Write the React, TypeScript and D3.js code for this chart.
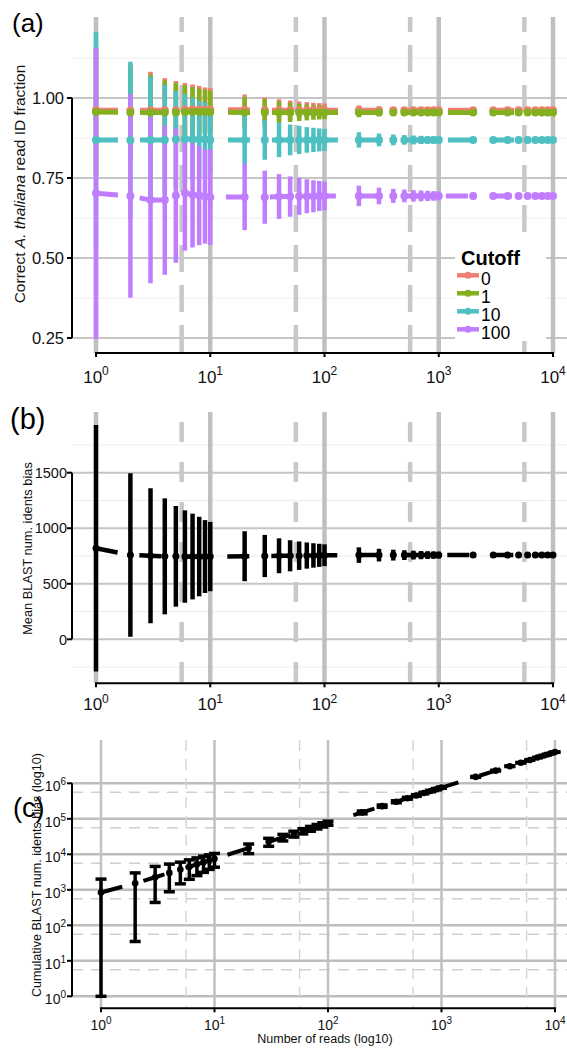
import React from "react";
import * as d3 from "d3";

const FONT = "'Liberation Sans', Arial, Helvetica, sans-serif";

// number of reads sampled (x axis, shared by all panels)
const reads = [
  1, 2, 3, 4, 5, 6, 7, 8, 9, 10,
  20, 30, 40, 50, 60, 70, 80, 90, 100,
  200, 300, 400, 500, 600, 700, 800, 900, 1000,
  2000, 3000, 4000, 5000, 6000, 7000, 8000, 9000, 10000,
];

const cutoffLevels = ["0", "1", "10", "100"];
const cutoffColors = ["#F07E73", "#84AF1E", "#4EC0C2", "#C07DFD"];

// (a) correct A. thaliana read ID fraction, mean and error half-width per cutoff
const fracMeanCut0 = [0.962, 0.961, 0.962, 0.962, 0.961, 0.963, 0.964, 0.964, 0.963, 0.963, 0.963, 0.962, 0.962, 0.962, 0.962, 0.962, 0.962, 0.962, 0.962, 0.962, 0.962, 0.962, 0.962, 0.962, 0.962, 0.962, 0.962, 0.962, 0.962, 0.962, 0.962, 0.962, 0.962, 0.962, 0.962, 0.962, 0.962];
const fracErrCut0 = [0.2, 0.145, 0.12, 0.1, 0.092, 0.084, 0.078, 0.074, 0.07, 0.068, 0.048, 0.04, 0.034, 0.03, 0.027, 0.025, 0.023, 0.022, 0.021, 0.015, 0.012, 0.01, 0.0093, 0.0085, 0.0079, 0.0074, 0.007, 0.0066, 0.0047, 0.0038, 0.0033, 0.003, 0.0027, 0.0025, 0.0023, 0.0022, 0.0021];
const fracMeanCut1 = [0.956, 0.955, 0.955, 0.955, 0.955, 0.956, 0.957, 0.957, 0.957, 0.956, 0.955, 0.955, 0.955, 0.955, 0.955, 0.955, 0.955, 0.955, 0.955, 0.955, 0.955, 0.955, 0.955, 0.955, 0.955, 0.955, 0.955, 0.955, 0.955, 0.955, 0.955, 0.955, 0.955, 0.955, 0.955, 0.955, 0.955];
const fracErrCut1 = [0.2, 0.142, 0.118, 0.1, 0.092, 0.083, 0.077, 0.073, 0.069, 0.067, 0.048, 0.042, 0.034, 0.03, 0.027, 0.025, 0.023, 0.022, 0.021, 0.015, 0.012, 0.01, 0.0093, 0.0085, 0.0079, 0.0074, 0.007, 0.0066, 0.0047, 0.0038, 0.0033, 0.003, 0.0027, 0.0025, 0.0023, 0.0022, 0.0021];
const fracMeanCut10 = [0.869, 0.868, 0.869, 0.869, 0.871, 0.872, 0.871, 0.87, 0.87, 0.869, 0.869, 0.869, 0.869, 0.869, 0.869, 0.869, 0.869, 0.869, 0.869, 0.869, 0.869, 0.869, 0.869, 0.869, 0.869, 0.869, 0.869, 0.869, 0.869, 0.869, 0.869, 0.869, 0.869, 0.869, 0.869, 0.869, 0.869];
const fracErrCut10 = [0.338, 0.245, 0.198, 0.171, 0.151, 0.14, 0.13, 0.122, 0.116, 0.104, 0.076, 0.062, 0.054, 0.048, 0.044, 0.04, 0.038, 0.036, 0.034, 0.024, 0.02, 0.017, 0.015, 0.014, 0.0128, 0.012, 0.0113, 0.0107, 0.0076, 0.0062, 0.0053, 0.0048, 0.0044, 0.004, 0.0038, 0.0036, 0.0034];
const fracMeanCut100 = [0.702, 0.694, 0.681, 0.681, 0.695, 0.703, 0.698, 0.695, 0.692, 0.69, 0.691, 0.69, 0.692, 0.692, 0.693, 0.693, 0.693, 0.694, 0.694, 0.694, 0.694, 0.694, 0.694, 0.694, 0.694, 0.694, 0.694, 0.694, 0.694, 0.694, 0.694, 0.694, 0.694, 0.694, 0.694, 0.694, 0.694];
const fracErrCut100 = [0.455, 0.318, 0.26, 0.233, 0.21, 0.18, 0.165, 0.155, 0.147, 0.149, 0.104, 0.083, 0.07, 0.063, 0.058, 0.053, 0.05, 0.047, 0.045, 0.032, 0.026, 0.022, 0.02, 0.018, 0.017, 0.016, 0.015, 0.014, 0.01, 0.008, 0.007, 0.0064, 0.0058, 0.0054, 0.005, 0.0048, 0.0045];

// (b) mean BLAST num. idents bias
const biasMean = [820, 759, 752, 747, 747, 745, 745, 745, 745, 745, 748, 750, 752, 752, 753, 754, 755, 756, 757, 758, 758, 758, 758, 758, 758, 758, 758, 758, 758, 758, 758, 758, 758, 758, 758, 758, 758];
const biasErr = [1110, 736, 608, 522, 453, 416, 386, 358, 328, 312, 225, 190, 157, 140, 128, 118, 110, 104, 98, 70, 57, 49, 44, 40, 37, 35, 33, 31, 22, 18, 16, 14, 13, 12, 11, 10.5, 10];

// (c) cumulative BLAST num. idents bias
const cumMean = [840, 1520, 2256, 2990, 3735, 4470, 5215, 5960, 6705, 7450, 14960, 22500, 30080, 37600, 45180, 52780, 60400, 68040, 75700, 151600, 227400, 303200, 379000, 454800, 530600, 606400, 682200, 758000, 1516000, 2274000, 3032000, 3790000, 4548000, 5306000, 6064000, 6822000, 7580000];
const cumLow = [1, 35, 440, 880, 1470, 1974, 2513, 3096, 3753, 4330, 10460, 16800, 23800, 30600, 37500, 44520, 51600, 58680, 65900, 137600, 210300, 283600, 357000, 430800, 504700, 578400, 652500, 727000, 1472000, 2220000, 2968000, 3720000, 4470000, 5222000, 5976000, 6727000, 7480000];
const cumHigh = [2000, 2990, 4560, 5300, 6000, 6966, 7917, 8824, 9657, 10570, 19460, 28200, 36360, 44600, 52860, 61040, 69200, 77400, 85500, 165600, 244500, 322800, 401000, 478800, 556500, 634400, 711900, 789000, 1560000, 2328000, 3096000, 3860000, 4626000, 5390000, 6152000, 6917000, 7680000];

// axis breaks
const xMajor = [1, 10, 100, 1000, 10000];
const xMinor = [5.62, 56.2, 562, 5620];
const fracTicks = [0.25, 0.5, 0.75, 1.0];
const fracMinor = [0.375, 0.625, 0.875, 1.125];
const biasTicks = [0, 500, 1000, 1500];
const biasMinor = [-250, 250, 750, 1250, 1750];
const cumMajor = [1, 10, 100, 1000, 10000, 100000, 1000000];
const cumMinor = [5.62, 56.2, 562, 5620, 56200, 562000];

const fracMeans = [fracMeanCut0, fracMeanCut1, fracMeanCut10, fracMeanCut100];
const fracErrs = [fracErrCut0, fracErrCut1, fracErrCut10, fracErrCut100];

const PANEL_RIGHT = 567;
const AXIS_X = 72;

const SupText = ({ x, y, exp, size, sup, anchor = "middle" }: any) => (
  <text x={x} y={y} textAnchor={anchor} fontSize={size} fontFamily={FONT} fill="#111">
    <tspan>10</tspan>
    <tspan dy={-size * 0.42} fontSize={sup}>{exp}</tspan>
  </text>
);

const xA = d3.scaleLog().domain([1, 1e4]).range([96, 553]);
const yA = d3.scaleLinear().domain([0.25, 1]).range([338, 98]);
const yB = d3.scaleLinear().domain([0, 1500]).range([639.3, 472.7]);
const xC = d3.scaleLog().domain([1, 1e4]).range([101, 555]);
const yC = d3.scaleLog().domain([1, 1e6]).range([996.3, 783.3]);

const PanelA = () => {
  const top = 17, bottom = 353;
  const line = d3.line<number>().x((_, j) => xA(reads[j])).y((v) => yA(v));
  return (
    <g>
      {fracMinor.map((v) => (
        <line key={"mn" + v} x1={AXIS_X} x2={PANEL_RIGHT} y1={yA(v)} y2={yA(v)} stroke="#EDEDED" strokeWidth={1} />
      ))}
      {fracTicks.map((v) => (
        <line key={"mj" + v} x1={AXIS_X} x2={PANEL_RIGHT} y1={yA(v)} y2={yA(v)} stroke="#C6C6C6" strokeWidth={2} />
      ))}
      {xMajor.map((v) => (
        <line key={"vx" + v} x1={xA(v)} x2={xA(v)} y1={top} y2={bottom} stroke="#BFBFBF" strokeWidth={4.5} />
      ))}
      {xMinor.map((v) => (
        <line key={"vm" + v} x1={xA(v)} x2={xA(v)} y1={top} y2={bottom} stroke="#C8C8C8" strokeWidth={4.5} strokeDasharray="27 13" strokeDashoffset={12} />
      ))}
      {/* axes */}
      <line x1={AXIS_X} x2={AXIS_X} y1={yA(0.25)} y2={yA(1)} stroke="#000" strokeWidth={2} />
      {fracTicks.map((v) => (
        <g key={"yt" + v}>
          <line x1={AXIS_X - 5} x2={AXIS_X} y1={yA(v)} y2={yA(v)} stroke="#000" strokeWidth={2} />
          <text x={64} y={yA(v)} dy="0.36em" textAnchor="end" fontSize={16.5} fontFamily={FONT} fill="#111">
            {v.toFixed(2)}
          </text>
        </g>
      ))}
      <line x1={xA(1) - 1} x2={xA(1e4) + 1} y1={bottom} y2={bottom} stroke="#000" strokeWidth={2} />
      {xMajor.map((v, k) => (
        <g key={"xt" + v}>
          <line x1={xA(v)} x2={xA(v)} y1={bottom} y2={bottom + 4} stroke="#000" strokeWidth={2} />
          <SupText x={xA(v)} y={bottom + 29.5} exp={k} size={17} sup={12} />
        </g>
      ))}
      {/* error bars */}
      {fracMeans.map((means, i) =>
        means.map((m, j) => (
          <line key={`e${i}-${j}`} x1={xA(reads[j])} x2={xA(reads[j])} y1={yA(m - fracErrs[i][j])} y2={yA(m + fracErrs[i][j])} stroke={cutoffColors[i]} strokeWidth={4.5} />
        ))
      )}
      {fracMeans.map((means, i) => (
        <path key={"l" + i} d={line(means) || ""} fill="none" stroke={cutoffColors[i]} strokeWidth={5} strokeDasharray="22 22" />
      ))}
      {fracMeans.map((means, i) =>
        means.map((m, j) => <circle key={`p${i}-${j}`} cx={xA(reads[j])} cy={yA(m)} r={4} fill={cutoffColors[i]} />)
      )}
      {/* legend */}
      <rect x={455} y={245} width={91} height={96} fill="#fff" />
      <text x={461} y={265} fontSize={20} fontWeight="bold" fontFamily={FONT} fill="#000">Cutoff</text>
      {cutoffLevels.map((lab, i) => (
        <g key={"lg" + lab}>
          <line x1={457} x2={479} y1={275.3 + 18 * i} y2={275.3 + 18 * i} stroke={cutoffColors[i]} strokeWidth={4.5} />
          <circle cx={468} cy={275.3 + 18 * i} r={3.5} fill={cutoffColors[i]} />
          <text x={481} y={275.3 + 18 * i + 9.5} fontSize={17.5} fontFamily={FONT} fill="#000">{lab}</text>
        </g>
      ))}
      <text x={12} y={31.5} fontSize={26} fontFamily={FONT} fill="#000">(a)</text>
      <text transform="translate(25,184) rotate(-90)" textAnchor="middle" fontSize={15.5} fontFamily={FONT} fill="#111">
        Correct <tspan fontStyle="italic">A. thaliana</tspan> read ID fraction
      </text>
    </g>
  );
};

const PanelB = () => {
  const top = 412, bottom = 683.3;
  const line = d3.line<number>().x((_, j) => xA(reads[j])).y((v) => yB(v));
  return (
    <g>
      {biasMinor.map((v) => (
        <line key={"mn" + v} x1={AXIS_X} x2={PANEL_RIGHT} y1={yB(v)} y2={yB(v)} stroke="#EDEDED" strokeWidth={1} />
      ))}
      {biasTicks.map((v) => (
        <line key={"mj" + v} x1={AXIS_X} x2={PANEL_RIGHT} y1={yB(v)} y2={yB(v)} stroke="#C6C6C6" strokeWidth={2} />
      ))}
      {xMajor.map((v) => (
        <line key={"vx" + v} x1={xA(v)} x2={xA(v)} y1={top} y2={bottom} stroke="#BFBFBF" strokeWidth={4.5} />
      ))}
      {xMinor.map((v) => (
        <line key={"vm" + v} x1={xA(v)} x2={xA(v)} y1={top} y2={bottom} stroke="#C8C8C8" strokeWidth={4.5} strokeDasharray="20 20" strokeDashoffset={30} />
      ))}
      <line x1={AXIS_X} x2={AXIS_X} y1={yB(0)} y2={yB(1500)} stroke="#000" strokeWidth={2} />
      {biasTicks.map((v) => (
        <g key={"yt" + v}>
          <line x1={AXIS_X - 5} x2={AXIS_X} y1={yB(v)} y2={yB(v)} stroke="#000" strokeWidth={2} />
          <text x={67} y={yB(v)} dy="0.36em" textAnchor="end" fontSize={14.5} fontFamily={FONT} fill="#111">{v}</text>
        </g>
      ))}
      <line x1={xA(1) - 1} x2={xA(1e4) + 1} y1={bottom} y2={bottom} stroke="#000" strokeWidth={2} />
      {xMajor.map((v, k) => (
        <g key={"xt" + v}>
          <line x1={xA(v)} x2={xA(v)} y1={bottom} y2={bottom + 4} stroke="#000" strokeWidth={2} />
          <SupText x={xA(v)} y={bottom + 27} exp={k} size={17} sup={12} />
        </g>
      ))}
      {biasMean.map((m, j) => (
        <line key={"e" + j} x1={xA(reads[j])} x2={xA(reads[j])} y1={yB(m - biasErr[j])} y2={yB(m + biasErr[j])} stroke="#000" strokeWidth={4.5} />
      ))}
      <path d={line(biasMean) || ""} fill="none" stroke="#000" strokeWidth={4.5} strokeDasharray="22 22" />
      {biasMean.map((m, j) => (
        <circle key={"p" + j} cx={xA(reads[j])} cy={yB(m)} r={3.5} fill="#000" />
      ))}
      <text x={10} y={429} fontSize={29} fontFamily={FONT} fill="#000">(b)</text>
      <text transform="translate(31.5,548.5) rotate(-90)" textAnchor="middle" fontSize={12.8} fontFamily={FONT} fill="#111">
        Mean BLAST num. idents bias
      </text>
    </g>
  );
};

const PanelC = () => {
  const top = 740, bottom = 1008.3;
  const line = d3.line<number>().x((_, j) => xC(reads[j])).y((v) => yC(v));
  const cap = 5.5;
  return (
    <g>
      {cumMinor.map((v) => (
        <line key={"mn" + v} x1={AXIS_X} x2={PANEL_RIGHT} y1={yC(v)} y2={yC(v)} stroke="#CFCFCF" strokeWidth={1.6} strokeDasharray="11 8" />
      ))}
      {cumMajor.map((v) => (
        <line key={"mj" + v} x1={AXIS_X} x2={PANEL_RIGHT} y1={yC(v)} y2={yC(v)} stroke="#BDBDBD" strokeWidth={2.6} />
      ))}
      {xMinor.map((v) => (
        <line key={"vm" + v} x1={xC(v)} x2={xC(v)} y1={top} y2={bottom} stroke="#D4D4D4" strokeWidth={1.4} strokeDasharray="11 8" />
      ))}
      {xMajor.map((v) => (
        <line key={"vx" + v} x1={xC(v)} x2={xC(v)} y1={top} y2={bottom} stroke="#C2C2C2" strokeWidth={2.6} />
      ))}
      <line x1={AXIS_X} x2={AXIS_X} y1={yC(1)} y2={yC(1e6)} stroke="#000" strokeWidth={2} />
      {cumMajor.map((v, k) => (
        <g key={"yt" + v}>
          <line x1={AXIS_X - 5} x2={AXIS_X} y1={yC(v)} y2={yC(v)} stroke="#000" strokeWidth={2} />
          <SupText x={66} y={yC(v) + 8} exp={k} size={14} sup={10} anchor="end" />
        </g>
      ))}
      <line x1={xC(1) - 1} x2={xC(1e4) + 1} y1={bottom} y2={bottom} stroke="#000" strokeWidth={2} />
      {xMajor.map((v, k) => (
        <g key={"xt" + v}>
          <line x1={xC(v)} x2={xC(v)} y1={bottom} y2={bottom + 4} stroke="#000" strokeWidth={2} />
          <SupText x={xC(v)} y={bottom + 21.5} exp={k} size={14} sup={10} />
        </g>
      ))}
      {cumMean.map((m, j) => {
        const x = xC(reads[j]);
        return (
          <g key={"e" + j}>
            <line x1={x} x2={x} y1={yC(cumLow[j])} y2={yC(cumHigh[j])} stroke="#000" strokeWidth={3.5} />
            <line x1={x - cap} x2={x + cap} y1={yC(cumLow[j])} y2={yC(cumLow[j])} stroke="#000" strokeWidth={3.5} />
            <line x1={x - cap} x2={x + cap} y1={yC(cumHigh[j])} y2={yC(cumHigh[j])} stroke="#000" strokeWidth={3.5} />
          </g>
        );
      })}
      <path d={line(cumMean) || ""} fill="none" stroke="#000" strokeWidth={4} strokeDasharray="22 22" />
      {cumMean.map((m, j) => (
        <circle key={"p" + j} cx={xC(reads[j])} cy={yC(m)} r={3.3} fill="#000" />
      ))}
      <text x={13} y={817} fontSize={27} fontFamily={FONT} fill="#000">(c)</text>
      <text transform="translate(40.5,875) rotate(-90)" textAnchor="middle" fontSize={12.6} fontFamily={FONT} fill="#111">
        Cumulative BLAST num. idents bias (log10)
      </text>
      <text x={325} y={1043} textAnchor="middle" fontSize={12.5} fontFamily={FONT} fill="#111">
        Number of reads (log10)
      </text>
    </g>
  );
};

export default function App() {
  return (
    <svg width={567} height={1050} viewBox="0 0 567 1050" style={{ position: "absolute", left: 0, top: 0, background: "#fff" }}>
      <rect x={0} y={0} width={567} height={1050} fill="#fff" />
      <PanelA />
      <PanelB />
      <PanelC />
    </svg>
  );
}
